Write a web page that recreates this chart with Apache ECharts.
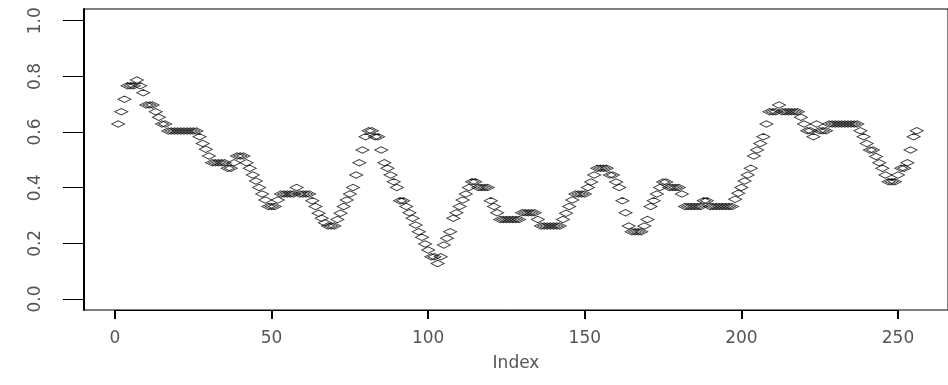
<!DOCTYPE html>
<html>
<head>
<meta charset="utf-8">
<script src="https://cdn.jsdelivr.net/npm/echarts@6/dist/echarts.min.js"></script>
<style>
    html, body { margin: 0; padding: 0; background: #fff; }
    #chart { width: 948px; height: 385px; }
</style>
</head>
<body>
<div id="chart"></div>
<script>
// values, index 1..256
const values = [
    0.629, 0.673, 0.718, 0.766, 0.766, 0.766, 0.787, 0.766, 0.741, 0.697,
    0.697, 0.697, 0.673, 0.653, 0.629, 0.629, 0.604, 0.604, 0.604, 0.604,
    0.604, 0.604, 0.604, 0.604, 0.604, 0.604, 0.583, 0.559, 0.538, 0.514,
    0.490, 0.490, 0.490, 0.490, 0.490, 0.470, 0.470, 0.490, 0.514, 0.514,
    0.514, 0.490, 0.470, 0.446, 0.424, 0.401, 0.377, 0.356, 0.332, 0.332,
    0.332, 0.356, 0.377, 0.377, 0.377, 0.377, 0.377, 0.401, 0.377, 0.377,
    0.377, 0.377, 0.353, 0.332, 0.308, 0.290, 0.274, 0.262, 0.262, 0.262,
    0.286, 0.308, 0.332, 0.356, 0.377, 0.401, 0.446, 0.490, 0.535, 0.583,
    0.605, 0.605, 0.583, 0.583, 0.535, 0.490, 0.470, 0.446, 0.421, 0.401,
    0.353, 0.353, 0.332, 0.310, 0.290, 0.266, 0.242, 0.222, 0.198, 0.176,
    0.152, 0.152, 0.128, 0.152, 0.194, 0.218, 0.242, 0.290, 0.310, 0.332,
    0.356, 0.377, 0.401, 0.421, 0.421, 0.401, 0.401, 0.401, 0.401, 0.353,
    0.332, 0.310, 0.286, 0.286, 0.286, 0.286, 0.286, 0.286, 0.286, 0.310,
    0.310, 0.310, 0.310, 0.310, 0.286, 0.262, 0.262, 0.262, 0.262, 0.262,
    0.262, 0.262, 0.286, 0.308, 0.332, 0.356, 0.377, 0.377, 0.377, 0.377,
    0.401, 0.420, 0.446, 0.470, 0.470, 0.470, 0.470, 0.446, 0.446, 0.420,
    0.401, 0.353, 0.310, 0.262, 0.242, 0.242, 0.242, 0.242, 0.262, 0.286,
    0.332, 0.353, 0.377, 0.401, 0.420, 0.420, 0.401, 0.401, 0.401, 0.401,
    0.377, 0.332, 0.332, 0.332, 0.332, 0.332, 0.332, 0.353, 0.353, 0.332,
    0.332, 0.332, 0.332, 0.332, 0.332, 0.332, 0.332, 0.358, 0.380, 0.401,
    0.424, 0.446, 0.470, 0.514, 0.535, 0.559, 0.583, 0.629, 0.673, 0.673,
    0.673, 0.697, 0.673, 0.673, 0.673, 0.673, 0.673, 0.673, 0.653, 0.629,
    0.605, 0.605, 0.583, 0.629, 0.605, 0.605, 0.605, 0.629, 0.629, 0.629,
    0.629, 0.629, 0.629, 0.629, 0.629, 0.629, 0.629, 0.605, 0.583, 0.559,
    0.535, 0.535, 0.512, 0.490, 0.470, 0.446, 0.421, 0.421, 0.421, 0.446,
    0.470, 0.470, 0.490, 0.535, 0.583, 0.605
];
const xName = 'Index';
const xMin = 0, xMax = 250, xStep = 50;
const yMin = 0, yMax = 1, yStep = 0.2;

const points = values.map(function (v, i) { return [i + 1, v]; });

const chart = echarts.init(document.getElementById('chart'));
const labelFont = 'DejaVu Sans';

const option = {
    animation: false,
    backgroundColor: '#fff',
    grid: [
        // data area: 0..250 by 0..1
        {left: 115, top: 20.7, width: 783, height: 278.3},
        // the plot box
        {left: 84, top: 9, width: 872, height: 301, show: true, borderColor: '#000', borderWidth: 1}
    ],
    xAxis: [
        {
            gridIndex: 0, type: 'value', min: xMin, max: xMax, interval: xStep,
            offset: 11,
            axisLine: {onZero: false, lineStyle: {color: '#000', width: 1}},
            axisTick: {length: 9, lineStyle: {color: '#000', width: 2}},
            axisLabel: {margin: 20, color: '#555', fontFamily: labelFont, fontSize: 17},
            splitLine: {show: false}
        },
        {
            gridIndex: 1, type: 'value', min: 0, max: 1,
            name: xName, nameLocation: 'middle', nameGap: 45,
            nameTextStyle: {color: '#555', fontFamily: labelFont, fontSize: 17},
            axisLine: {show: false}, axisTick: {show: false},
            axisLabel: {show: false}, splitLine: {show: false}
        }
    ],
    yAxis: [
        {
            gridIndex: 0, type: 'value', min: yMin, max: yMax, interval: yStep,
            offset: 31,
            axisLine: {onZero: false, lineStyle: {color: '#000', width: 2}},
            axisTick: {length: 21, lineStyle: {color: '#000', width: 1}},
            axisLabel: {
                margin: 40, rotate: 90, color: '#555', fontFamily: labelFont, fontSize: 17,
                formatter: function (v) { return v.toFixed(1); }
            },
            splitLine: {show: false}
        },
        {
            gridIndex: 1, type: 'value', min: 0, max: 1,
            axisLine: {show: true, onZero: false, lineStyle: {color: '#000', width: 2}},
            axisTick: {show: false}, axisLabel: {show: false}, splitLine: {show: false}
        }
    ],
    series: [{
        type: 'scatter',
        xAxisIndex: 0,
        yAxisIndex: 0,
        clip: false,
        symbol: 'diamond',
        symbolSize: [13, 6.5],
        itemStyle: {color: 'rgba(0,0,0,0)', borderColor: '#000', borderWidth: 1},
        emphasis: {disabled: true},
        data: points
    }]
};
chart.setOption(option);
</script>
</body>
</html>
